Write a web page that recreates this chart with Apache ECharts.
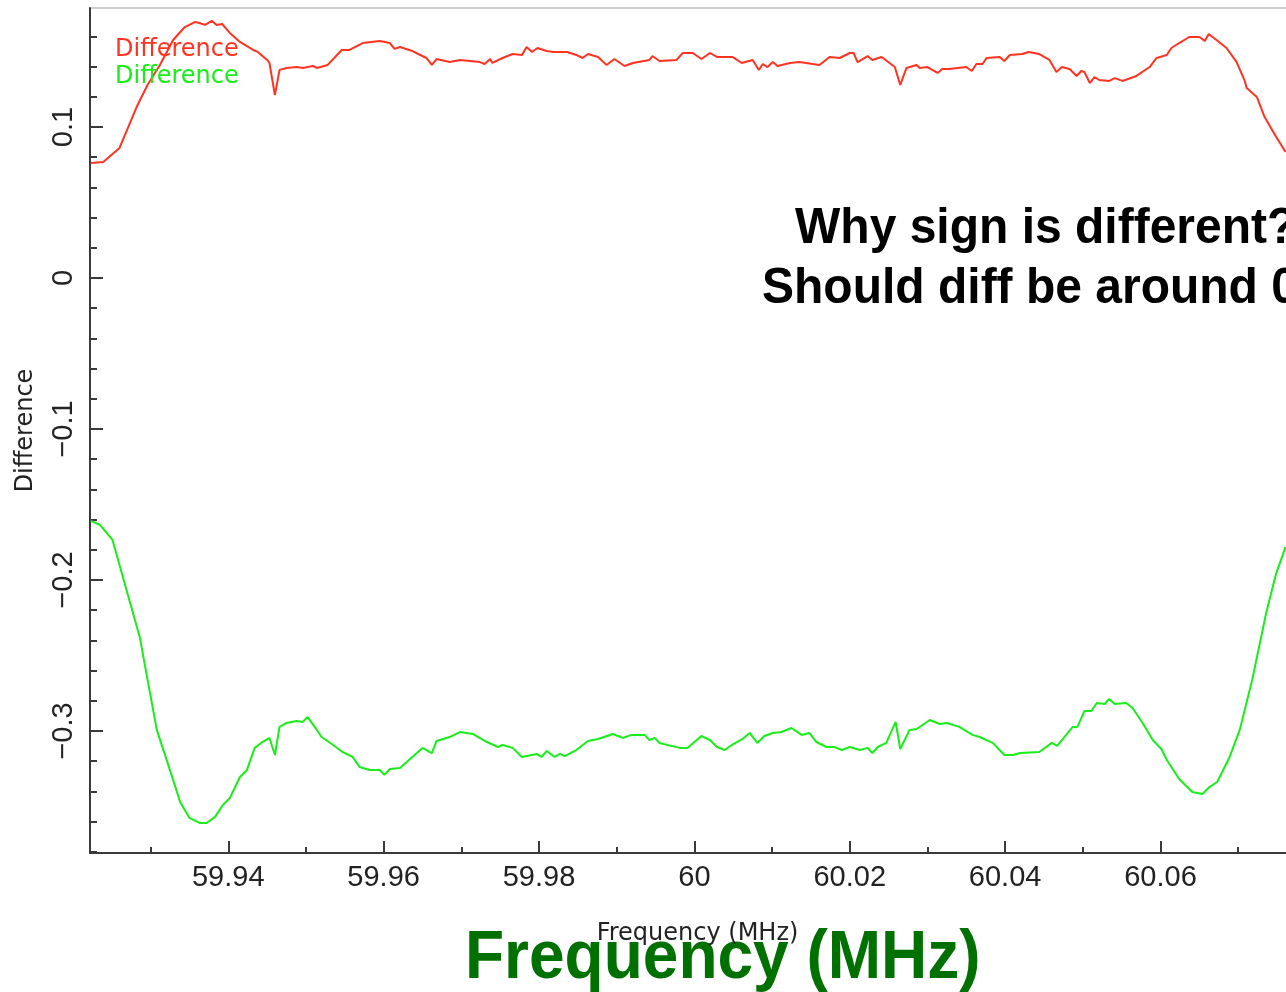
<!DOCTYPE html>
<html>
<head>
<meta charset="utf-8">
<script src="https://cdn.jsdelivr.net/npm/echarts@6/dist/echarts.min.js"></script>
<style>
  html, body { margin: 0; padding: 0; background: #ffffff; }
  #chart { width: 1286px; height: 992px; }
</style>
</head>
<body>
<div id="chart"></div>
<script>
// Difference spectra versus frequency (MHz)
const redFreq = [59.9223, 59.9239, 59.9257, 59.9260, 59.9282, 59.9296, 59.9312, 59.9329, 59.9344, 59.9357,
  59.9363, 59.9370, 59.9379, 59.9385, 59.9392, 59.9402, 59.9415, 59.9432, 59.9438, 59.9450,
  59.9453, 59.9460, 59.9466, 59.9475, 59.9488, 59.9496, 59.9509, 59.9514, 59.9528, 59.9546,
  59.9556, 59.9573, 59.9595, 59.9608, 59.9614, 59.9621, 59.9637, 59.9655, 59.9662, 59.9668,
  59.9685, 59.9698, 59.9724, 59.9730, 59.9737, 59.9740, 59.9753, 59.9766, 59.9778, 59.9784,
  59.9791, 59.9798, 59.9810, 59.9818, 59.9836, 59.9848, 59.9856, 59.9863, 59.9876, 59.9887,
  59.9897, 59.9910, 59.9921, 59.9942, 59.9946, 59.9955, 59.9977, 59.9985, 59.9998, 60.0009,
  60.0020, 60.0029, 60.0049, 60.0061, 60.0075, 60.0083, 60.0088, 60.0094, 60.0101, 60.0107,
  60.0123, 60.0135, 60.0161, 60.0174, 60.0187, 60.0200, 60.0205, 60.0210, 60.0223, 60.0229,
  60.0241, 60.0258, 60.0265, 60.0273, 60.0286, 60.0290, 60.0300, 60.0313, 60.0319, 60.0328,
  60.0350, 60.0357, 60.0363, 60.0371, 60.0376, 60.0393, 60.0399, 60.0406, 60.0422, 60.0430,
  60.0444, 60.0457, 60.0466, 60.0473, 60.0483, 60.0492, 60.0498, 60.0502, 60.0509, 60.0515,
  60.0521, 60.0534, 60.0541, 60.0551, 60.0569, 60.0586, 60.0595, 60.0608, 60.0614, 60.0624,
  60.0637, 60.0650, 60.0657, 60.0662, 60.0672, 60.0685, 60.0698, 60.0708, 60.0711, 60.0724,
  60.0734, 60.0740, 60.0749, 60.0761];
const redDiff = [0.0762, 0.0768, 0.0848, 0.0861, 0.1132, 0.1278, 0.1411, 0.1576, 0.1662, 0.1695,
  0.1689, 0.1676, 0.1702, 0.1676, 0.1682, 0.1623, 0.1563, 0.1510, 0.1497, 0.1444,
  0.1424, 0.1212, 0.1378, 0.1391, 0.1397, 0.1391, 0.1404, 0.1391, 0.1411, 0.1510,
  0.1510, 0.1556, 0.1570, 0.1556, 0.1517, 0.1530, 0.1503, 0.1457, 0.1411, 0.1450,
  0.1430, 0.1444, 0.1430, 0.1417, 0.1450, 0.1424, 0.1457, 0.1483, 0.1477, 0.1530,
  0.1497, 0.1523, 0.1503, 0.1497, 0.1497, 0.1477, 0.1457, 0.1483, 0.1464, 0.1411,
  0.1450, 0.1404, 0.1424, 0.1444, 0.1470, 0.1437, 0.1444, 0.1490, 0.1490, 0.1450,
  0.1490, 0.1464, 0.1464, 0.1424, 0.1444, 0.1378, 0.1417, 0.1397, 0.1430, 0.1404,
  0.1424, 0.1430, 0.1411, 0.1464, 0.1457, 0.1490, 0.1490, 0.1430, 0.1470, 0.1444,
  0.1464, 0.1397, 0.1278, 0.1391, 0.1411, 0.1391, 0.1397, 0.1358, 0.1384, 0.1384,
  0.1397, 0.1371, 0.1417, 0.1417, 0.1457, 0.1464, 0.1437, 0.1477, 0.1483, 0.1497,
  0.1483, 0.1444, 0.1364, 0.1397, 0.1384, 0.1338, 0.1371, 0.1364, 0.1291, 0.1331,
  0.1311, 0.1305, 0.1324, 0.1305, 0.1338, 0.1397, 0.1457, 0.1477, 0.1523, 0.1556,
  0.1596, 0.1596, 0.1570, 0.1616, 0.1576, 0.1523, 0.1430, 0.1311, 0.1258, 0.1199,
  0.1066, 0.1013, 0.0934, 0.0834];

const greenFreq = [59.9223, 59.9235, 59.9251, 59.9269, 59.9286, 59.9308, 59.9329, 59.9338, 59.9350, 59.9363,
  59.9372, 59.9383, 59.9393, 59.9402, 59.9415, 59.9424, 59.9434, 59.9444, 59.9453, 59.9460,
  59.9466, 59.9475, 59.9488, 59.9496, 59.9502, 59.9514, 59.9520, 59.9535, 59.9547, 59.9560,
  59.9569, 59.9582, 59.9595, 59.9601, 59.9608, 59.9621, 59.9634, 59.9650, 59.9662, 59.9668,
  59.9685, 59.9698, 59.9715, 59.9733, 59.9747, 59.9753, 59.9766, 59.9778, 59.9797, 59.9803,
  59.9810, 59.9820, 59.9827, 59.9833, 59.9848, 59.9863, 59.9876, 59.9895, 59.9908, 59.9919,
  59.9936, 59.9942, 59.9949, 59.9955, 59.9981, 59.9991, 60.0009, 60.0020, 60.0029, 60.0039,
  60.0048, 60.0062, 60.0071, 60.0081, 60.0090, 60.0101, 60.0112, 60.0125, 60.0138, 60.0148,
  60.0157, 60.0170, 60.0180, 60.0190, 60.0200, 60.0213, 60.0223, 60.0229, 60.0236, 60.0247,
  60.0259, 60.0265, 60.0277, 60.0286, 60.0303, 60.0316, 60.0325, 60.0341, 60.0358, 60.0367,
  60.0384, 60.0399, 60.0410, 60.0419, 60.0444, 60.0460, 60.0467, 60.0487, 60.0493, 60.0502,
  60.0511, 60.0518, 60.0528, 60.0534, 60.0541, 60.0556, 60.0564, 60.0577, 60.0590, 60.0601,
  60.0609, 60.0624, 60.0641, 60.0654, 60.0663, 60.0673, 60.0689, 60.0702, 60.0718, 60.0736,
  60.0749, 60.0761];
const greenDiff = [-0.1609, -0.1636, -0.1735, -0.2066, -0.2377, -0.2993, -0.3324, -0.3470, -0.3576, -0.3609,
  -0.3609, -0.3569, -0.3490, -0.3444, -0.3305, -0.3258, -0.3112, -0.3073, -0.3046, -0.3159,
  -0.2973, -0.2947, -0.2934, -0.2940, -0.2907, -0.2993, -0.3040, -0.3093, -0.3139, -0.3172,
  -0.3238, -0.3258, -0.3258, -0.3291, -0.3252, -0.3245, -0.3185, -0.3112, -0.3146, -0.3066,
  -0.3040, -0.3007, -0.3020, -0.3073, -0.3106, -0.3093, -0.3112, -0.3172, -0.3152, -0.3172,
  -0.3132, -0.3172, -0.3152, -0.3166, -0.3126, -0.3066, -0.3053, -0.3020, -0.3046, -0.3026,
  -0.3026, -0.3060, -0.3046, -0.3079, -0.3112, -0.3112, -0.3033, -0.3060, -0.3106, -0.3126,
  -0.3093, -0.3053, -0.3013, -0.3079, -0.3033, -0.3013, -0.3007, -0.2980, -0.3026, -0.3013,
  -0.3073, -0.3106, -0.3106, -0.3126, -0.3106, -0.3126, -0.3112, -0.3146, -0.3106, -0.3079,
  -0.2940, -0.3119, -0.2993, -0.2987, -0.2927, -0.2954, -0.2947, -0.2973, -0.3026, -0.3040,
  -0.3079, -0.3159, -0.3159, -0.3146, -0.3139, -0.3079, -0.3099, -0.2973, -0.2973, -0.2868,
  -0.2868, -0.2815, -0.2821, -0.2788, -0.2821, -0.2815, -0.2848, -0.2947, -0.3060, -0.3119,
  -0.3199, -0.3318, -0.3404, -0.3417, -0.3371, -0.3338, -0.3172, -0.2993, -0.2662, -0.2219,
  -0.1954, -0.1781];

const xMajorTicks = [59.94, 59.96, 59.98, 60, 60.02, 60.04, 60.06];
const xMinorTicks = [59.93, 59.95, 59.97, 59.99, 60.01, 60.03, 60.05, 60.07];
const yMajorTicks = [-0.3, -0.2, -0.1, 0, 0.1];
const yMinorTicks = [-0.38, -0.36, -0.34, -0.32, -0.28, -0.26, -0.24, -0.22, -0.18, -0.16, -0.14, -0.12,
  -0.08, -0.06, -0.04, -0.02, 0.02, 0.04, 0.06, 0.08, 0.12, 0.14, 0.16];

const X_MIN = 59.9222, X_MAX = 60.0786;
const Y_MIN = -0.3808, Y_MAX = 0.1788;

const RED = '#ff3322';
const GREEN = '#18ee18';
const AXIS = '#3a3a3a';

function zip(xs, ys) { return xs.map((x, i) => [x, ys[i]]); }
function fmtY(v) { return v === 0 ? '0' : (v < 0 ? '\u2212' : '') + String(Math.abs(v)); }

const chart = echarts.init(document.getElementById('chart'), null, { renderer: 'canvas' });

chart.setOption({
  animation: false,
  backgroundColor: '#ffffff',
  grid: {
    left: 90, top: 8, width: 1215, height: 845,
    outerBoundsMode: 'none', containLabel: false,
    show: true, borderColor: '#cfcfcf', borderWidth: 2, backgroundColor: 'transparent'
  },
  legend: {
    orient: 'vertical', left: 105, top: 31,
    icon: 'none', itemWidth: 0, itemHeight: 14, itemGap: 0,
    selectedMode: false,
    formatter: () => 'Difference',
    textStyle: { fontFamily: 'DejaVu Sans', fontSize: 24, lineHeight: 27 },
    data: [
      { name: 'Difference A', textStyle: { color: RED } },
      { name: 'Difference B', textStyle: { color: GREEN } }
    ]
  },
  xAxis: [
    {
      type: 'value', position: 'bottom', min: X_MIN, max: X_MAX,
      axisLine: { show: true, onZero: false, lineStyle: { color: AXIS, width: 2 } },
      axisTick: { show: true, inside: true, length: 12, customValues: xMajorTicks, lineStyle: { color: AXIS, width: 2 } },
      axisLabel: { customValues: xMajorTicks, margin: 10, fontFamily: 'Liberation Sans', fontSize: 29, color: '#222', formatter: v => String(v) },
      splitLine: { show: false },
      name: 'Frequency (MHz)', nameLocation: 'middle', nameGap: 69,
      nameTextStyle: { fontFamily: 'DejaVu Sans', fontSize: 24, color: '#222' }
    },
    {
      // minor ticks on the same bottom edge
      type: 'value', position: 'bottom', offset: 0, min: X_MIN, max: X_MAX,
      axisLine: { show: false, onZero: false },
      axisTick: { show: true, inside: true, length: 6, customValues: xMinorTicks, lineStyle: { color: AXIS, width: 2 } },
      axisLabel: { show: false },
      splitLine: { show: false }
    }
  ],
  yAxis: [
    {
      type: 'value', position: 'left', min: Y_MIN, max: Y_MAX,
      axisLine: { show: true, onZero: false, lineStyle: { color: AXIS, width: 2 } },
      axisTick: { show: true, inside: true, length: 13, customValues: yMajorTicks, lineStyle: { color: AXIS, width: 2 } },
      axisLabel: { customValues: yMajorTicks, rotate: 90, margin: 12, fontFamily: 'Liberation Sans', fontSize: 29, color: '#222', formatter: fmtY },
      splitLine: { show: false },
      name: 'Difference', nameLocation: 'middle', nameGap: 52,
      nameTextStyle: { fontFamily: 'DejaVu Sans', fontSize: 24, color: '#222' }
    },
    {
      // minor ticks on the same left edge
      type: 'value', position: 'left', offset: 0, min: Y_MIN, max: Y_MAX,
      axisLine: { show: false, onZero: false },
      axisTick: { show: true, inside: true, length: 7, customValues: yMinorTicks, lineStyle: { color: AXIS, width: 2 } },
      axisLabel: { show: false },
      splitLine: { show: false }
    }
  ],
  series: [
    {
      name: 'Difference A', type: 'line', xAxisIndex: 0, yAxisIndex: 0,
      data: zip(redFreq, redDiff), showSymbol: false, symbol: 'none',
      lineStyle: { color: RED, width: 2 }, itemStyle: { color: RED }
    },
    {
      name: 'Difference B', type: 'line', xAxisIndex: 0, yAxisIndex: 0,
      data: zip(greenFreq, greenDiff), showSymbol: false, symbol: 'none',
      lineStyle: { color: GREEN, width: 2 }, itemStyle: { color: GREEN }
    }
  ],
  graphic: [
    {
      type: 'text', x: 795, y: 229, scaleY: 1.04,
      style: { text: 'Why sign is different?', font: 'bold 48px "Liberation Sans", Arial, sans-serif', fill: '#000', align: 'left', verticalAlign: 'middle' }
    },
    {
      type: 'text', x: 762, y: 289, scaleY: 1.04,
      style: { text: 'Should diff be around 0?', font: 'bold 48px "Liberation Sans", Arial, sans-serif', fill: '#000', align: 'left', verticalAlign: 'middle' }
    },
    {
      type: 'text', x: 465, y: 959, scaleY: 1.06,
      style: { text: 'Frequency (MHz)', font: 'bold 64px "Liberation Sans", Arial, sans-serif', fill: '#007000', align: 'left', verticalAlign: 'middle' }
    }
  ]
});
</script>
</body>
</html>
